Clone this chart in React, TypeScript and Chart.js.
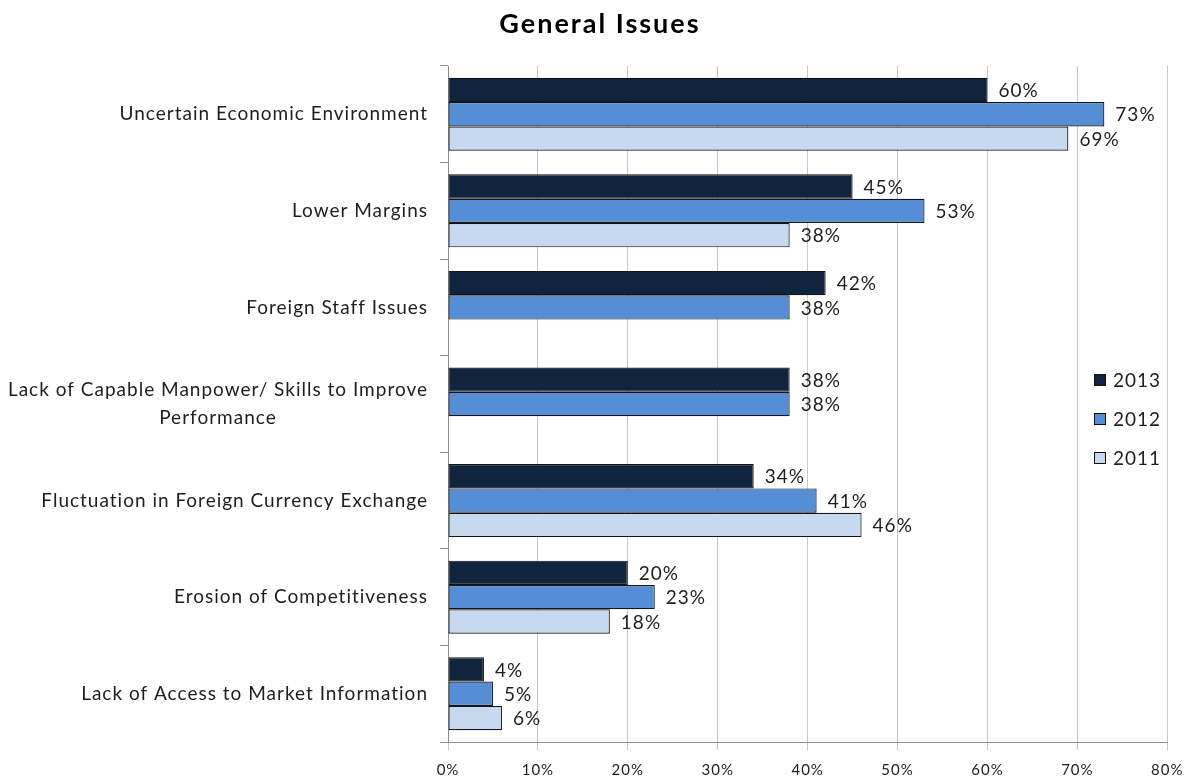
import React, { useEffect, useRef } from "react";
import { Chart, registerables } from "chart.js";

Chart.register(...registerables);

const title = "General Issues";
const categories: (string | string[])[] = [
  "Uncertain Economic Environment",
  "Lower Margins",
  "Foreign Staff Issues",
  ["Lack of Capable Manpower/ Skills to Improve", "Performance"],
  "Fluctuation in Foreign Currency Exchange",
  "Erosion of Competitiveness",
  "Lack of Access to Market Information",
];
const seriesNames = ["2013", "2012", "2011"];
const values2013 = [60, 45, 42, 38, 34, 20, 4];
const values2012 = [73, 53, 38, 38, 41, 23, 5];
const values2011: (number | null)[] = [69, 38, null, null, 46, 18, 6];
const colors = ["#11243f", "#558ed5", "#c6d9f1"];
const xTicks = [0, 10, 20, 30, 40, 50, 60, 70, 80];

const FONT = "Lato, 'Open Sans', sans-serif";
const TEXT = "#1e1e1e";

const customPlugin = {
  id: "custom",
  beforeDraw(chart: any) {
    (chart.ctx as any).letterSpacing = "1px";
  },
  afterDraw(chart: any) {
    const ctx = chart.ctx as CanvasRenderingContext2D;
    const yScale = chart.scales.y;
    ctx.save();
    // title
    (ctx as any).letterSpacing = "2px";
    ctx.fillStyle = "#000";
    ctx.font = `bold 27px ${FONT}`;
    ctx.textAlign = "center";
    ctx.textBaseline = "middle";
    ctx.fillText(title, 600, 24);
    (ctx as any).letterSpacing = "1px";
    // category labels
    ctx.font = `19px ${FONT}`;
    ctx.fillStyle = TEXT;
    const rightX = 428;
    categories.forEach((cat, i) => {
      const lines = Array.isArray(cat) ? cat : [cat];
      const cy = yScale.getPixelForValue(i);
      const lh = 28;
      const maxW = Math.max(...lines.map((l) => ctx.measureText(l).width));
      const cx = rightX - maxW / 2;
      ctx.textAlign = "center";
      lines.forEach((l, j) => {
        const y = cy + (j - (lines.length - 1) / 2) * lh;
        ctx.fillText(l, cx, y);
      });
    });
    // data labels
    ctx.textAlign = "left";
    ctx.font = `19px ${FONT}`;
    chart.data.datasets.forEach((ds: any, di: number) => {
      const meta = chart.getDatasetMeta(di);
      meta.data.forEach((el: any, i: number) => {
        const v = ds.data[i];
        if (v === null || v === undefined) return;
        ctx.fillText(v + "%", el.x + 11, el.y + 1);
      });
    });
    // legend
    const legendY = [380, 419, 458];
    seriesNames.forEach((name, i) => {
      ctx.fillStyle = colors[i];
      ctx.fillRect(1094, legendY[i] - 6, 12, 12);
      ctx.strokeStyle = "#111";
      ctx.lineWidth = 1;
      ctx.strokeRect(1094.5, legendY[i] - 5.5, 11, 11);
      ctx.fillStyle = TEXT;
      ctx.textAlign = "left";
      ctx.fillText(name, 1113, legendY[i] + 1);
    });
    ctx.restore();
    (ctx as any).letterSpacing = "0px";
  },
};

export default function App() {
  const ref = useRef<HTMLCanvasElement>(null);
  useEffect(() => {
    document.body.style.margin = "0";
    const chart = new Chart(ref.current!, {
      type: "bar",
      data: {
        labels: categories.map((c) => (Array.isArray(c) ? c.join(" ") : c)),
        datasets: [values2013, values2012, values2011].map((d, i) => ({
          label: seriesNames[i],
          data: d,
          backgroundColor: colors[i],
          borderColor: "#141414",
          borderWidth: 1.2,
          borderSkipped: false,
          categoryPercentage: 0.756,
          barPercentage: 1.0,
        })),
      },
      options: {
        indexAxis: "y",
        animation: false,
        responsive: false,
        layout: { padding: { top: 66, right: 25, left: 0, bottom: 0 } },
        plugins: { legend: { display: false }, title: { display: false }, tooltip: { enabled: false } },
        scales: {
          x: {
            type: "linear",
            position: "bottom",
            min: 0,
            max: 80,
            afterBuildTicks: (s: any) => {
              s.ticks = xTicks.map((v) => ({ value: v }));
            },
            afterFit: (s: any) => {
              s.height = 36;
            },
            ticks: {
              callback: (v: any) => v + "%",
              color: TEXT,
              font: { family: FONT, size: 15 },
              padding: 11,
            },
            grid: { color: "#c8c8c8", lineWidth: 1, tickLength: 8, drawTicks: true },
            border: { color: "#8c8c8c" },
          },
          y: {
            type: "category",
            offset: true,
            afterFit: (s: any) => {
              s.width = 448;
            },
            ticks: { display: false },
            grid: { drawOnChartArea: false, color: "#8c8c8c", tickLength: 8, offset: true },
            border: { color: "#8c8c8c" },
          },
        },
      },
      plugins: [customPlugin],
    } as any);
    return () => chart.destroy();
  }, []);
  return (
    <div style={{ width: 1193, height: 778, background: "#fff" }}>
      <canvas ref={ref} width={1193} height={778} style={{ display: "block" }} />
    </div>
  );
}
